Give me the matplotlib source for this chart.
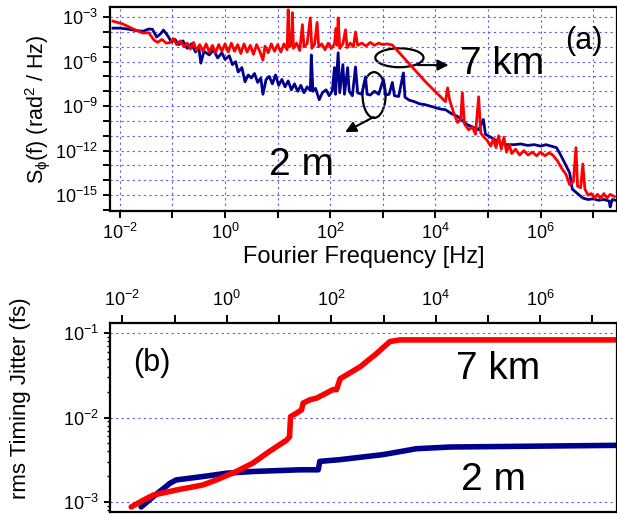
import matplotlib
matplotlib.use("Agg")
import matplotlib.pyplot as plt
from matplotlib.patches import Ellipse
import numpy as np

plt.rcParams['font.family'] = ['Liberation Sans', 'DejaVu Sans']
plt.rcParams['mathtext.fontset'] = 'custom'
plt.rcParams['mathtext.rm'] = 'Liberation Sans'
plt.rcParams['mathtext.it'] = 'Liberation Sans:italic'
plt.rcParams['mathtext.default'] = 'regular'

RED = '#ff0000'
BLUE = '#00008c'
GRID = '#5a5aff'

# (a) phase noise PSD, log10(f / Hz) and log10(S / rad^2/Hz)
red_psd_logf = [
    -2.13, -1.95, -1.80, -1.65, -1.56, -1.45, -1.35, -1.28, -1.20, -1.12, -1.05, -0.98,
    -0.92, -0.85, -0.78, -0.72, -0.66, -0.60, -0.54, -0.48, -0.42, -0.36, -0.30, -0.24,
    -0.18, -0.12, -0.06, 0.00, 0.06, 0.12, 0.18, 0.24, 0.30, 0.36, 0.42, 0.48,
    0.54, 0.60, 0.66, 0.72, 0.76, 0.82, 0.88, 0.94, 1.00, 1.06, 1.12, 1.18,
    1.20, 1.22, 1.26, 1.28, 1.30, 1.36, 1.42, 1.47, 1.50, 1.56, 1.62, 1.65,
    1.70, 1.75, 1.78, 1.84, 1.90, 1.96, 2.02, 2.08, 2.11, 2.13, 2.15, 2.18,
    2.24, 2.29, 2.32, 2.38, 2.44, 2.48, 2.52, 2.60, 2.68, 2.76, 2.84, 2.92,
    3.00, 3.08, 3.18, 3.50, 3.80, 4.19, 4.23, 4.27, 4.35, 4.42, 4.48, 4.51,
    4.55, 4.63, 4.70, 4.76, 4.82, 4.86, 4.91, 4.98, 5.05, 5.10, 5.15, 5.20,
    5.25, 5.30, 5.35, 5.40, 5.45, 5.52, 5.60, 5.68, 5.76, 5.84, 5.92, 6.00,
    6.08, 6.16, 6.23, 6.32, 6.40, 6.48, 6.55, 6.62, 6.67, 6.70, 6.76, 6.80,
    6.84, 6.90, 6.96, 7.02, 7.08, 7.14, 7.20, 7.26, 7.32, 7.40,
]
red_psd_logs = [
    -3.27, -3.45, -3.70, -3.95, -4.07, -4.05, -4.55, -4.70, -4.50, -4.75, -4.72, -4.45,
    -4.85, -4.60, -5.00, -4.75, -5.15, -4.70, -5.25, -4.85, -5.30, -4.80, -5.35, -4.90,
    -5.40, -4.85, -5.30, -4.80, -5.35, -4.75, -5.30, -4.85, -5.45, -4.80, -5.35, -4.90,
    -5.50, -4.85, -5.30, -5.90, -4.95, -5.40, -4.80, -5.30, -4.85, -5.35, -4.80, -5.20,
    -2.50, -5.00, -4.90, -2.70, -5.10, -4.75, -5.25, -3.50, -5.00, -4.80, -3.05, -5.10,
    -4.85, -3.35, -5.00, -4.80, -5.20, -4.75, -5.10, -4.80, -3.75, -4.90, -3.05, -5.10,
    -4.80, -3.85, -5.05, -4.75, -5.00, -4.00, -4.90, -4.75, -4.95, -4.70, -4.90, -4.75,
    -4.85, -4.80, -4.88, -6.14, -7.32, -8.70, -7.77, -8.60, -9.50, -10.10, -9.90, -8.10,
    -10.20, -10.60, -10.40, -10.90, -8.37, -10.80, -11.05, -11.30, -11.70, -11.20, -11.80, -11.00,
    -11.90, -11.10, -12.10, -11.60, -12.20, -11.90, -12.30, -12.00, -12.30, -12.10, -12.35, -12.10,
    -12.35, -12.15, -12.30, -12.70, -13.20, -13.60, -14.30, -14.10, -11.80, -14.40, -14.50, -12.90,
    -14.60, -15.00, -14.90, -15.20, -14.95, -15.25, -14.90, -15.20, -14.95, -15.10,
]

blue_psd_logf = [
    -2.13, -2.00, -1.85, -1.70, -1.56, -1.45, -1.38, -1.30, -1.22, -1.17, -1.08, -1.02,
    -0.95, -0.88, -0.80, -0.72, -0.64, -0.56, -0.50, -0.46, -0.40, -0.30, -0.22, -0.14,
    -0.06, 0.00, 0.08, 0.14, 0.20, 0.25, 0.32, 0.38, 0.44, 0.50, 0.56, 0.62,
    0.68, 0.72, 0.78, 0.84, 0.90, 0.96, 1.02, 1.08, 1.14, 1.20, 1.26, 1.32,
    1.38, 1.44, 1.50, 1.56, 1.62, 1.64, 1.67, 1.72, 1.79, 1.85, 1.92, 1.98,
    2.04, 2.08, 2.10, 2.15, 2.18, 2.24, 2.27, 2.33, 2.36, 2.42, 2.48, 2.52,
    2.60, 2.67, 2.70, 2.76, 2.84, 2.92, 3.01, 3.05, 3.12, 3.18, 3.22, 3.30,
    3.39, 3.42, 3.50, 3.60, 3.70, 3.80, 3.90, 4.00, 4.10, 4.19, 4.30, 4.42,
    4.52, 4.60, 4.70, 4.82, 4.91, 4.95, 5.05, 5.15, 5.25, 5.35, 5.50, 5.62,
    5.75, 5.88, 6.00, 6.10, 6.20, 6.30, 6.38, 6.45, 6.55, 6.60, 6.70, 6.80,
    6.90, 7.00, 7.10, 7.20, 7.30, 7.32, 7.36, 7.42,
]
blue_psd_logs = [
    -3.74, -3.74, -3.80, -3.90, -3.95, -3.80, -3.82, -4.34, -4.10, -3.87, -4.30, -4.68,
    -4.50, -4.85, -4.60, -5.10, -4.80, -5.35, -5.00, -6.10, -5.30, -5.55, -5.20, -5.75,
    -5.40, -5.85, -5.60, -6.20, -6.00, -6.70, -6.40, -7.36, -6.90, -7.10, -6.80, -7.40,
    -7.10, -8.20, -7.20, -7.00, -7.50, -6.90, -7.60, -7.20, -7.70, -7.30, -7.90, -7.50,
    -8.00, -7.60, -8.10, -7.70, -7.95, -5.55, -8.00, -7.80, -8.57, -8.10, -7.90, -8.30,
    -7.95, -6.40, -8.20, -5.40, -8.10, -6.20, -8.20, -6.40, -8.00, -8.30, -6.36, -8.10,
    -8.20, -7.03, -8.20, -8.25, -8.00, -8.20, -7.20, -8.25, -8.20, -7.40, -8.30, -8.35,
    -6.76, -8.40, -8.60, -8.70, -8.85, -8.90, -9.00, -9.10, -9.20, -9.24, -9.50, -9.70,
    -10.00, -10.25, -10.40, -10.60, -9.90, -10.90, -11.10, -11.30, -11.50, -11.60, -11.60, -11.55,
    -11.65, -11.60, -11.70, -11.60, -11.70, -11.80, -12.30, -12.80, -13.50, -14.60, -14.90, -15.20,
    -15.30, -15.25, -15.35, -15.30, -15.40, -15.80, -15.30, -15.35,
]

# (b) integrated rms timing jitter, log10(f / Hz) and log10(jitter / fs)
red_jit_logf = [-1.83, -1.60, -1.41, -0.97, -0.46, -0.20, 0.18, 0.50, 0.82, 1.14,
                1.20, 1.22, 1.33, 1.43, 1.46, 1.59, 1.72, 2.03, 2.10, 2.17,
                2.55, 2.87, 3.12, 3.31, 7.47]
red_jit_logj = [-3.06, -2.98, -2.92, -2.86, -2.80, -2.74, -2.64, -2.54, -2.40, -2.27,
                -2.23, -1.99, -1.95, -1.91, -1.83, -1.79, -1.77, -1.67, -1.67, -1.54,
                -1.40, -1.24, -1.10, -1.08, -1.08]

blue_jit_logf = [-1.64, -1.41, -1.09, -0.97, -0.46, 0.00, 0.50, 1.40, 1.75, 1.78,
                 2.16, 2.99, 3.63, 4.27, 7.47]
blue_jit_logj = [-3.06, -2.94, -2.78, -2.74, -2.70, -2.66, -2.64, -2.62, -2.62, -2.52,
                 -2.50, -2.44, -2.37, -2.35, -2.33]

labels_even = {k: r'10$^{%d}$' % k for k in range(-2, 8, 2)}


def style_axis(ax):
    for sp in ax.spines.values():
        sp.set_linewidth(1.6)
    ax.tick_params(which='both', direction='out', width=1.4, labelsize=13)
    ax.tick_params(which='major', length=5)


fig = plt.figure(figsize=(6.17, 5.17), dpi=100)

# ---- panel (a) ----
ax1 = fig.add_axes([0.178, 0.592, 0.822, 0.394])
ax1.plot(10 ** np.array(blue_psd_logf), 10 ** np.array(blue_psd_logs), color=BLUE, lw=2.0)
ax1.plot(10 ** np.array(red_psd_logf), 10 ** np.array(red_psd_logs), color=RED, lw=2.0)
ax1.set_xscale('log')
ax1.set_yscale('log')
ax1.set_xlim(10 ** -2.19, 10 ** 7.45)
ax1.set_ylim(10 ** -16.07, 10 ** -2.33)
ax1.set_xticks([10.0 ** k for k in range(-2, 8)])
ax1.set_xticklabels([labels_even.get(k, '') for k in range(-2, 8)])
ax1.set_yticks([10.0 ** k for k in range(-16, -2)])
ax1.set_yticklabels([r'10$^{%d}$' % k if k % 3 == 0 else '' for k in range(-16, -2)])
ax1.minorticks_off()
ax1.grid(True, which='major', color=GRID, ls=(0, (2, 3)), lw=0.8)
style_axis(ax1)
ax1.set_xlabel('Fourier Frequency [Hz]', fontsize=17, labelpad=2)
ax1.set_ylabel(r'S$_{\phi}$(f) (rad$^2$ / Hz)', fontsize=15.5, labelpad=2)

ax1.text(0.935, 0.833, '(a)', transform=ax1.transAxes, fontsize=22, ha='center', va='center')
ax1.text(0.773, 0.72, '7 km', transform=ax1.transAxes, fontsize=28, ha='center', va='center')
ax1.text(0.378, 0.225, '2 m', transform=ax1.transAxes, fontsize=28, ha='center', va='center')

ax1.add_patch(Ellipse((0.571, 0.752), 0.095, 0.093, transform=ax1.transAxes,
                      fill=False, ec='k', lw=1.6))
ax1.add_patch(Ellipse((0.521, 0.569), 0.0455, 0.225, transform=ax1.transAxes,
                      fill=False, ec='k', lw=1.6))
arrow = dict(arrowstyle='-|>', color='k', lw=1.5, mutation_scale=16, shrinkA=0, shrinkB=0)
ax1.annotate('', xy=(0.668, 0.716), xytext=(0.607, 0.716), xycoords='axes fraction',
             textcoords='axes fraction', arrowprops=arrow)
ax1.annotate('', xy=(0.464, 0.387), xytext=(0.520, 0.461), xycoords='axes fraction',
             textcoords='axes fraction', arrowprops=arrow)

# ---- panel (b) ----
ax2 = fig.add_axes([0.178, 0.0097, 0.822, 0.3655])
ax2.plot(10 ** np.array(blue_jit_logf), 10 ** np.array(blue_jit_logj), color=BLUE, lw=4,
         solid_capstyle='round')
ax2.plot(10 ** np.array(red_jit_logf), 10 ** np.array(red_jit_logj), color=RED, lw=4,
         solid_capstyle='round')
ax2.set_xscale('log')
ax2.set_yscale('log')
ax2.set_xlim(10 ** -2.24, 10 ** 7.47)
ax2.set_ylim(10 ** -3.12, 10 ** -0.88)
ax2.xaxis.tick_top()
ax2.set_xticks([10.0 ** k for k in range(-2, 8)])
ax2.set_xticklabels([labels_even.get(k, '') for k in range(-2, 8)])
ax2.xaxis.set_minor_locator(matplotlib.ticker.NullLocator())
ax2.set_yticks([1e-3, 1e-2, 1e-1])
ax2.set_yticklabels([r'10$^{-3}$', r'10$^{-2}$', r'10$^{-1}$'])
ax2.yaxis.grid(True, which='major', color=GRID, ls=(0, (2, 3)), lw=0.8)
style_axis(ax2)
ax2.tick_params(axis='x', length=6)
ax2.tick_params(axis='y', which='major', length=4)
ax2.tick_params(axis='y', which='minor', length=2.5, width=1.0)
ax2.set_ylabel('rms Timing Jitter (fs)', fontsize=16)
ax2.yaxis.set_label_coords(-0.155, 0.6)

ax2.text(0.083, 0.788, '(b)', transform=ax2.transAxes, fontsize=22, ha='center', va='center')
ax2.text(0.765, 0.757, '7 km', transform=ax2.transAxes, fontsize=28, ha='center', va='center')
ax2.text(0.757, 0.17, '2 m', transform=ax2.transAxes, fontsize=28, ha='center', va='center',
         bbox=dict(fc='white', ec='none', pad=1))

fig.savefig('out.png', dpi=100)
